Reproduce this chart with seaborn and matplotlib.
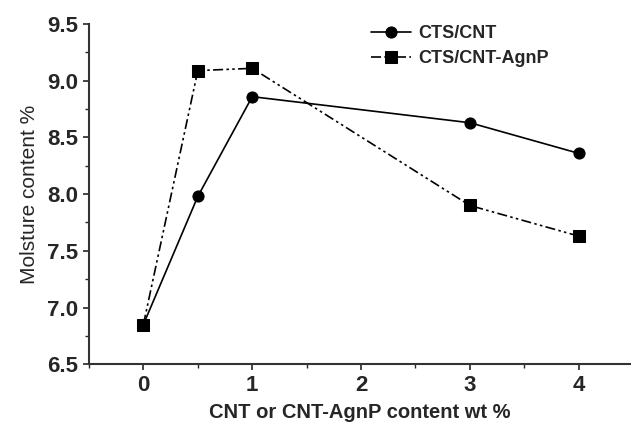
import numpy as np
import pandas as pd
import matplotlib
matplotlib.use("Agg")
import matplotlib.pyplot as plt
import seaborn as sns
from matplotlib.ticker import MultipleLocator

# --- data ---
content = [0, 0.5, 1, 3, 4]
cts_cnt = [6.85, 7.98, 8.86, 8.63, 8.36]
cts_cnt_agnp = [6.85, 9.09, 9.11, 7.90, 7.63]
series_names = ["CTS/CNT", "CTS/CNT-AgnP"]

df = pd.DataFrame({
    "x": content * 2,
    "y": cts_cnt + cts_cnt_agnp,
    "series": [series_names[0]] * len(content) + [series_names[1]] * len(content),
})

sns.set_style("ticks")
plt.rcParams["font.family"] = ["Liberation Sans", "DejaVu Sans"]

fig = plt.figure(figsize=(6.31, 4.23), dpi=100)
ax = fig.add_axes([0.141, 0.139, 0.859, 0.804])

sns.lineplot(data=df, x="x", y="y", hue="series", style="series",
             palette=["black", "black"], markers=["o", "s"],
             dashes=[(None, None), (6, 2, 1.5, 2, 1.5, 2)],
             markersize=8, markeredgecolor="black", linewidth=1.2, ax=ax)
ax.lines[0].set_linestyle("-")

ax.set_xlim(-0.5, 4.48)
ax.set_ylim(6.5, 9.5)
ax.set_xticks([0, 1, 2, 3, 4])
ax.xaxis.set_minor_locator(MultipleLocator(0.5))
ax.yaxis.set_major_locator(MultipleLocator(0.5))
ax.yaxis.set_minor_locator(MultipleLocator(0.25))
ax.yaxis.set_major_formatter(matplotlib.ticker.FormatStrFormatter("%.1f"))
ax.tick_params(which="major", direction="out", length=4, width=1.2, labelsize=16)
ax.tick_params(which="minor", direction="out", length=3, width=1)
for lab in ax.get_xticklabels() + ax.get_yticklabels():
    lab.set_fontweight("bold")

for side in ["top", "right"]:
    ax.spines[side].set_visible(False)
for side in ["left", "bottom"]:
    ax.spines[side].set_linewidth(1.5)
    ax.spines[side].set_color("#333333")

ax.set_xlabel("CNT or CNT-AgnP content wt %", fontsize=14.5, fontweight="bold", labelpad=5)
ax.set_ylabel("Molsture content %", fontsize=15, labelpad=6)

leg = ax.legend(loc="upper left", bbox_to_anchor=(0.49, 1.045), frameon=False,
                prop={"weight": "bold", "size": 13}, handlelength=2.2,
                handletextpad=0.4, labelspacing=0.45)

fig.savefig("out.png", dpi=100)
